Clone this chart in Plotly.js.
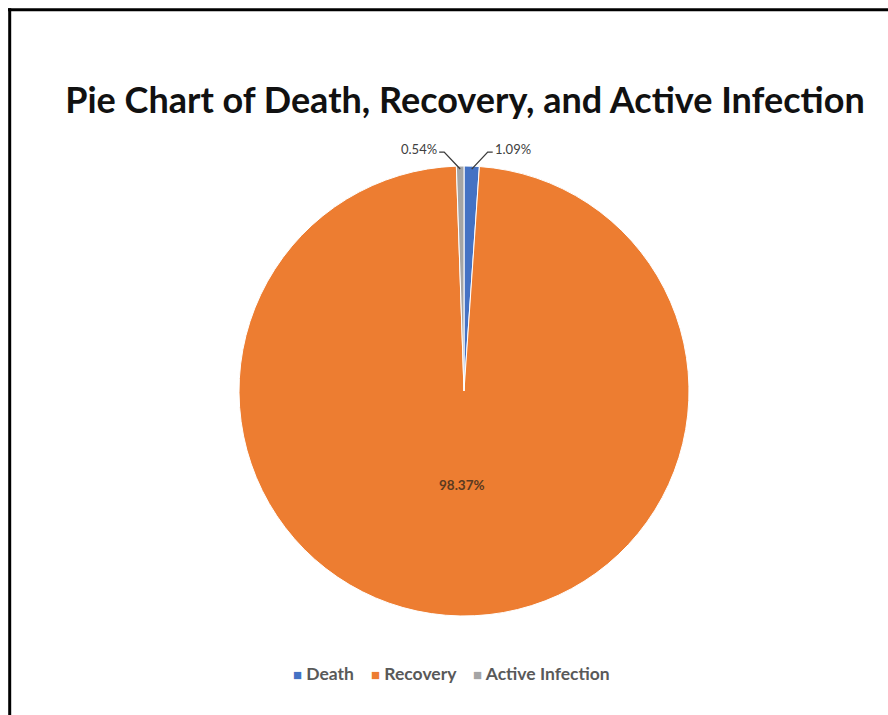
<!DOCTYPE html>
<html>
<head>
<meta charset="utf-8">
<script src="https://cdn.plot.ly/plotly-3.0.1.min.js"></script>
<style>
  html, body { margin: 0; padding: 0; background: #ffffff; }
  #chart { width: 888px; height: 715px; }
</style>
</head>
<body>
<div id="chart"></div>
<script>
// Share of cases by outcome (percent)
const categories = ['Death', 'Recovery', 'Active Infection'];
const shares = [1.09, 98.37, 0.54];
const sliceColors = ['#4472C4', '#ED7D31', '#A5A5A5'];

const W = 888, H = 715;
// pie placement in pixels
const cx = 464, cy = 391, R = 225;

const px = x => x / W;
const py = y => 1 - y / H;

const total = shares.reduce((a, b) => a + b, 0);
const fmt = v => v.toFixed(2) + '%';

const trace = {
  type: 'pie',
  labels: categories,
  values: shares,
  sort: false,
  direction: 'clockwise',
  rotation: 0,
  marker: { colors: sliceColors, line: { color: '#ffffff', width: 1 } },
  textinfo: 'none',
  hoverinfo: 'label+percent',
  showlegend: false,
  domain: { x: [px(cx - R), px(cx + R)], y: [py(cy + R), py(cy - R)] }
};

// value labels: inside for the large slice, outside with leader lines for the small ones
const shapes = [];
const annotations = [];
let cum = 0;
shares.forEach((v, i) => {
  const start = cum;
  cum += v;
  const mid = ((start + v / 2) / total) * 2 * Math.PI;
  if (v / total > 0.2) {
    annotations.push({
      xref: 'paper', yref: 'paper',
      x: px(cx + 0.42 * R * Math.sin(mid)), y: py(cy - 0.42 * R * Math.cos(mid)),
      xanchor: 'center', yanchor: 'middle', text: fmt(v), showarrow: false,
      font: { family: 'Lato, sans-serif', size: 13.5, color: '#5b3a20', weight: 'bold' }
    });
    return;
  }
  const tipX = cx + R * Math.sin(mid);
  const tipY = cy - R * Math.cos(mid) + 3;
  const side = Math.sin(mid) >= 0 ? 1 : -1;
  const elbowX = tipX + side * 16, elbowY = tipY - 17;
  const endX = elbowX + side * 5;
  shapes.push({
    type: 'path', xref: 'paper', yref: 'paper', layer: 'above',
    path: `M ${px(tipX)} ${py(tipY)} L ${px(elbowX)} ${py(elbowY)} L ${px(endX)} ${py(elbowY)}`,
    line: { color: '#3a3a3a', width: 1.3 }
  });
  annotations.push({
    xref: 'paper', yref: 'paper', x: px(endX), y: py(elbowY - 3),
    xanchor: side > 0 ? 'left' : 'right', yanchor: 'middle',
    text: fmt(v), showarrow: false,
    font: { family: 'Lato, sans-serif', size: 13, color: '#404040' }
  });
});

// legend row: a small colour square before each category name
const legendText = categories.map((c, i) =>
  `<span style="color:${sliceColors[i]};font-size:15px">■</span> ${c}`
).join('&nbsp;&nbsp;&nbsp;&nbsp;');
annotations.push({
  xref: 'paper', yref: 'paper', x: px(451), y: py(673),
  xanchor: 'center', yanchor: 'middle', text: legendText, showarrow: false,
  font: { family: 'Lato, sans-serif', size: 17.5, color: '#595959', weight: 'bold' }
});

// frame lines along the top and left edges
shapes.push({ type: 'line', xref: 'paper', yref: 'paper', x0: px(8), x1: 1, y0: py(9.7), y1: py(9.7),
  line: { color: '#000000', width: 3 } });
shapes.push({ type: 'line', xref: 'paper', yref: 'paper', x0: px(9.7), x1: px(9.7), y0: 0, y1: py(8.2),
  line: { color: '#000000', width: 3 } });

const layout = {
  width: W, height: H,
  margin: { l: 0, r: 0, t: 0, b: 0 },
  paper_bgcolor: '#ffffff',
  title: {
    text: 'Pie Chart of Death, Recovery, and Active Infection',
    x: 465 / W, xanchor: 'center',
    y: 1 - 100 / H, yanchor: 'middle', yref: 'container',
    font: { family: 'Lato, sans-serif', size: 36, color: '#111111', weight: 'bold' }
  },
  showlegend: false,
  shapes: shapes,
  annotations: annotations
};

Plotly.newPlot('chart', [trace], layout, { displayModeBar: false, staticPlot: true });
</script>
</body>
</html>
